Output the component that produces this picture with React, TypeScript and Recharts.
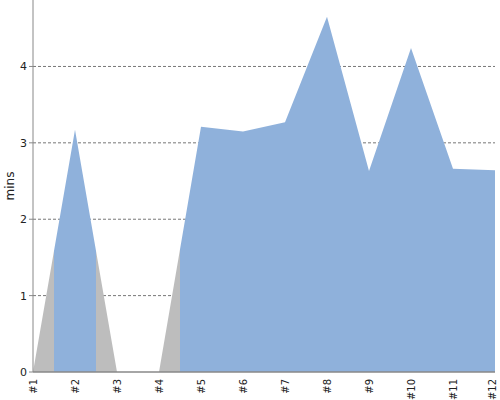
import { AreaChart, Area, XAxis, YAxis, CartesianGrid, Label } from 'recharts';

const runs = [1, 2, 3, 4, 5, 6, 7, 8, 9, 10, 11, 12];
const mins = [0, 3.17, 0, 0, 3.21, 3.15, 3.27, 4.65, 2.63, 4.24, 2.66, 2.64];
const yTicks = [0, 1, 2, 3, 4];
const yMax = 4.87;

const data = runs.map((r, i) => ({ run: r, mins: mins[i] }));

// each point owns the half-segment on either side of it; zero points are grey
const GREY = '#bdbdbd';
const BLUE = '#8fb1db';
const span = runs[runs.length - 1] - runs[0];
const stops: Array<{ offset: number; color: string }> = [];
data.forEach((d) => {
  const color = d.mins > 0 ? BLUE : GREY;
  const from = Math.max(0, (d.run - 0.5 - runs[0]) / span);
  const to = Math.min(1, (d.run + 0.5 - runs[0]) / span);
  stops.push({ offset: from, color }, { offset: to, color });
});

function RunTick(props: any) {
  const { x, y, payload } = props;
  return (
    <text
      x={x}
      y={y}
      transform={`rotate(-90, ${x}, ${y})`}
      textAnchor="end"
      dominantBaseline="central"
      fontSize={10}
      fill="#222"
    >
      {`#${payload.value}`}
    </text>
  );
}

// grid only at the labelled ticks above zero, none at the top edge
const gridRows = ({ offset }: any) =>
  yTicks.slice(1).map((t) => offset.top + offset.height * (1 - t / yMax));

export default function App() {
  return (
    <div style={{ position: 'absolute', left: 0, top: 0, fontFamily: 'DejaVu Sans' }}>
      <AreaChart width={500} height={400} data={data} margin={{ top: 0, right: 5, bottom: 0, left: 0 }}>
        <defs>
          <linearGradient id="runFill" x1="0" y1="0" x2="1" y2="0">
            {stops.map((s, i) => (
              <stop key={i} offset={s.offset} stopColor={s.color} />
            ))}
          </linearGradient>
        </defs>
        <CartesianGrid vertical={false} stroke="#777" strokeDasharray="3 2" horizontalCoordinatesGenerator={gridRows} />
        <XAxis
          dataKey="run"
          type="number"
          domain={[1, 12]}
          ticks={runs}
          height={28}
          tickLine={false}
          tickMargin={1}
          tick={<RunTick />}
          stroke="#888"
          strokeWidth={1.5}
        />
        <YAxis
          domain={[0, yMax]}
          ticks={yTicks}
          width={33}
          tickSize={4}
          stroke="#888"
          tick={{ fill: '#222', fontSize: 11 }}
        >
          <Label value="mins" angle={-90} position="center" dx={-7} style={{ fontSize: 12, fill: '#222' }} />
        </YAxis>
        <Area
          type="linear"
          dataKey="mins"
          stroke="none"
          fill="url(#runFill)"
          fillOpacity={1}
          isAnimationActive={false}
        />
      </AreaChart>
    </div>
  );
}
